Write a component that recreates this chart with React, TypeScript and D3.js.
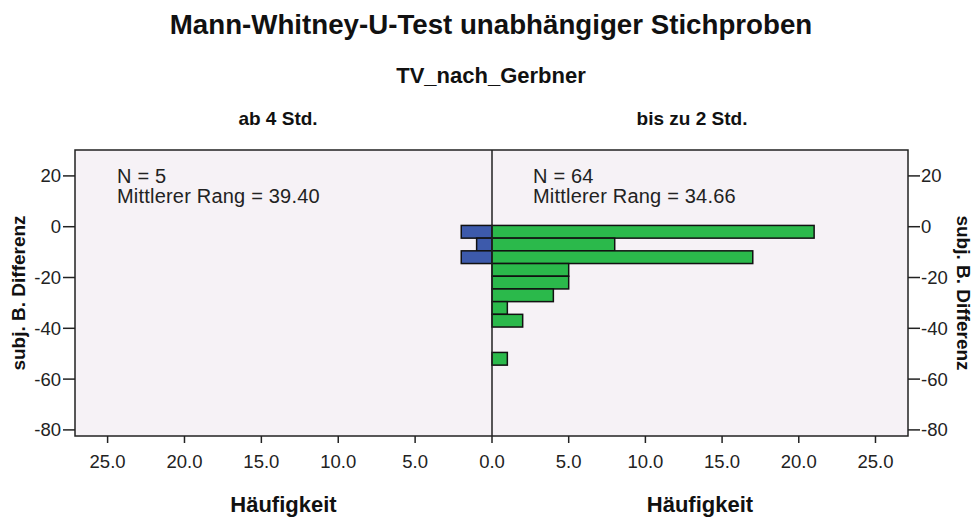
import React from "react";
import * as d3 from "d3";

const binUpper = [0.5, -4.5, -9.5, -14.5, -19.5, -24.5, -29.5, -34.5, -39.5, -44.5, -49.5];
const leftCounts = [2, 1, 2, 0, 0, 0, 0, 0, 0, 0, 0];
const rightCounts = [21, 8, 17, 5, 5, 4, 1, 2, 0, 0, 1];
const binWidth = 5;
const yTicks = [20, 0, -20, -40, -60, -80];
const xTicks = [0, 5, 10, 15, 20, 25];
const leftGroup = { name: "ab 4 Std.", n: 5, rank: "39.40" };
const rightGroup = { name: "bis zu 2 Std.", n: 64, rank: "34.66" };
const title = "Mann-Whitney-U-Test unabhängiger Stichproben";
const subtitle = "TV_nach_Gerbner";
const yLabel = "subj. B. Differenz";
const xLabel = "Häufigkeit";

const W = 973, H = 519;
const L = 75, R = 908, T = 150, B = 436, C = 492;
const FONT = "'Liberation Sans', Arial, sans-serif";

export default function App() {
  const y = d3.scaleLinear().domain([-82.4, 30.2]).range([B, T]);
  const xr = d3.scaleLinear().domain([0, 27.12]).range([C, R]);
  const xl = d3.scaleLinear().domain([0, 27.12]).range([C, L]);
  const fmt = d3.format(".1f");
  const bars = binUpper.map((u, i) => ({ top: u, bot: u - binWidth, l: leftCounts[i], r: rightCounts[i] }));
  const midY = (T + B) / 2;
  return (
    <div style={{ position: "absolute", left: 0, top: 0 }}>
      <svg width={W} height={H} style={{ display: "block", background: "#fff" }} fontFamily={FONT}>
        <text x={491} y={34} textAnchor="middle" fontSize={27.7} fontWeight="bold" fill="#111">{title}</text>
        <text x={491} y={83} textAnchor="middle" fontSize={22} fontWeight="bold" fill="#111">{subtitle}</text>
        <text x={278} y={125} textAnchor="middle" fontSize={19} fontWeight="bold" fill="#111">{leftGroup.name}</text>
        <text x={692} y={125} textAnchor="middle" fontSize={19} fontWeight="bold" fill="#111">{rightGroup.name}</text>

        <rect x={L} y={T} width={R - L} height={B - T} fill="#F6F2F6" />

        {bars.filter(b => b.l > 0).map((b, i) => (
          <rect key={"l" + i} x={xl(b.l)} y={y(b.top)} width={xl(0) - xl(b.l)} height={y(b.bot) - y(b.top)}
            fill="#3D5AAB" stroke="#111" strokeWidth={1.5} />
        ))}
        {bars.filter(b => b.r > 0).map((b, i) => (
          <rect key={"r" + i} x={xr(0)} y={y(b.top)} width={xr(b.r) - xr(0)} height={y(b.bot) - y(b.top)}
            fill="#2BB94B" stroke="#111" strokeWidth={1.5} />
        ))}

        <line x1={C} x2={C} y1={T} y2={B} stroke="#222" strokeWidth={1.5} />
        <rect x={L} y={T} width={R - L} height={B - T} fill="none" stroke="#222" strokeWidth={1.5} />

        <text fontSize={20} fill="#222" letterSpacing={0.2}>
          <tspan x={117} y={183}>N = {leftGroup.n}</tspan>
          <tspan x={117} y={203}>Mittlerer Rang = {leftGroup.rank}</tspan>
        </text>
        <text fontSize={20} fill="#222" letterSpacing={0.2}>
          <tspan x={533} y={183}>N = {rightGroup.n}</tspan>
          <tspan x={533} y={203}>Mittlerer Rang = {rightGroup.rank}</tspan>
        </text>

        {yTicks.map(t => (
          <g key={"yl" + t}>
            <line x1={L - 12} x2={L} y1={y(t)} y2={y(t)} stroke="#222" strokeWidth={1.5} />
            <text x={L - 14} y={y(t)} dy="0.35em" textAnchor="end" fontSize={18.5} fill="#222">{t}</text>
            <line x1={R} x2={R + 12} y1={y(t)} y2={y(t)} stroke="#222" strokeWidth={1.5} />
            <text x={R + 13} y={y(t)} dy="0.35em" textAnchor="start" fontSize={18.5} fill="#222">{t}</text>
          </g>
        ))}
        {xTicks.map(t => (
          <g key={"x" + t}>
            <line x1={xl(t)} x2={xl(t)} y1={B} y2={B + 7} stroke="#222" strokeWidth={1.5} />
            <text x={xl(t)} y={468} textAnchor="middle" fontSize={18.5} fill="#222">{fmt(t)}</text>
            {t > 0 && (
              <g>
                <line x1={xr(t)} x2={xr(t)} y1={B} y2={B + 7} stroke="#222" strokeWidth={1.5} />
                <text x={xr(t)} y={468} textAnchor="middle" fontSize={18.5} fill="#222">{fmt(t)}</text>
              </g>
            )}
          </g>
        ))}

        <text x={(L + C) / 2} y={512} textAnchor="middle" fontSize={22} fontWeight="bold" fill="#111">{xLabel}</text>
        <text x={(C + R) / 2} y={512} textAnchor="middle" fontSize={22} fontWeight="bold" fill="#111">{xLabel}</text>

        <text transform={`translate(25,${midY}) rotate(-90)`} textAnchor="middle" fontSize={19} fontWeight="bold" fill="#111">{yLabel}</text>
        <text transform={`translate(957,${midY}) rotate(90)`} textAnchor="middle" fontSize={19} fontWeight="bold" fill="#111">{yLabel}</text>
      </svg>
    </div>
  );
}
